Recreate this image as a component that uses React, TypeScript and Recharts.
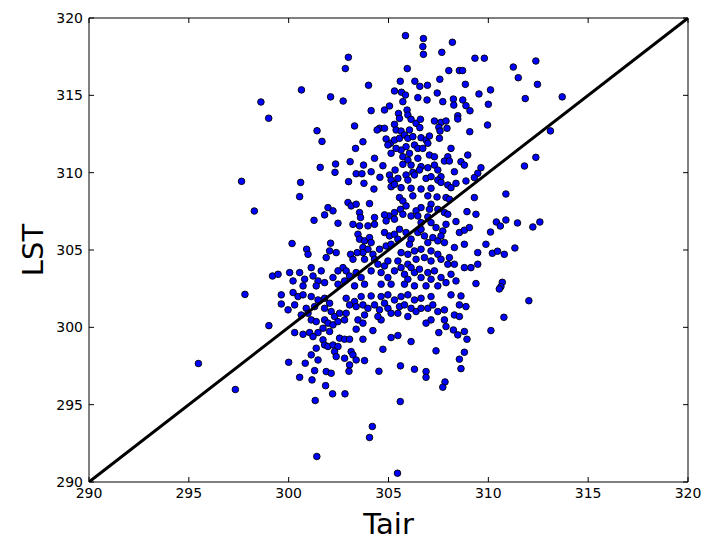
import React from 'react';
import { ScatterChart, Scatter, XAxis, YAxis, ReferenceArea } from 'recharts';

// axis ticks (same on both axes)
const xTicks = [290, 295, 300, 305, 310, 315, 320];
const yTicks = [290, 295, 300, 305, 310, 315, 320];

// 1:1 line
const oneToOne = [
  { tair: 290, lst: 290 },
  { tair: 320, lst: 320 },
];

// [Tair, LST] pairs
const sparsePoints: [number, number][] = [
  [298.61, 314.57], [299.0, 313.52], [300.64, 315.35], [302.1, 314.9],
  [305.85, 318.86], [306.75, 318.67], [306.72, 318.15], [306.75, 317.65], [308.2, 318.43],
  [307.67, 317.78], [302.99, 317.46], [302.84, 316.73], [305.94, 316.73], [308.02, 316.6],
  [304.0, 315.65], [305.59, 315.91], [306.32, 315.91], [306.57, 315.58], [306.95, 315.65],
  [307.57, 316.04], [305.3, 315.28], [305.65, 315.2], [305.85, 315.02], [307.44, 315.15],
  [309.33, 317.4], [309.8, 317.4], [311.25, 316.83], [312.38, 317.22], [311.5, 316.14],
  [312.46, 315.71], [308.55, 316.6], [308.71, 316.6], [308.85, 315.71], [309.53, 315.09],
  [310.11, 315.35], [311.85, 314.79], [313.7, 314.9], [310.0, 314.42], [309.96, 313.08],
  [313.11, 312.7], [312.38, 310.99], [311.81, 310.43],
  [310.88, 308.62], [310.4, 306.81], [310.6, 306.55], [310.88, 306.94], [311.46, 306.75],
  [312.23, 306.49], [312.58, 306.81], [310.11, 306.16], [309.88, 305.37], [311.33, 305.13],
  [310.2, 304.79], [310.46, 304.92], [310.8, 304.72], [310.7, 302.91], [310.63, 302.63],
  [310.55, 302.48], [312.03, 301.72], [310.78, 300.65], [310.13, 299.79],
  [297.64, 309.44], [298.28, 307.52], [299.19, 303.32], [297.81, 302.13], [299.01, 300.11],
  [295.48, 297.66], [297.33, 295.98], [301.33, 295.27], [301.41, 291.65],
  [305.59, 295.2], [304.19, 293.59], [304.05, 292.88], [305.45, 290.57], [302.2, 295.7],
  [302.82, 295.7],
];

const upperPoints: [number, number][] = [
  [302.73, 314.63], [305.72, 314.59], [306.47, 314.85], [306.93, 314.7], [307.72, 314.59],
  [308.25, 314.76], [308.72, 314.7], [308.27, 314.37], [308.88, 314.33], [309.08, 314.0],
  [305.05, 314.31], [304.13, 314.01], [304.8, 314.05],
  [305.5, 313.83], [305.93, 314.05], [305.97, 313.73], [305.55, 313.51], [306.13, 313.45],
  [306.38, 313.19], [306.6, 313.45], [307.3, 313.34], [307.63, 313.25], [307.88, 313.34],
  [308.47, 313.68], [308.47, 313.47], [307.93, 312.87], [307.52, 312.93], [307.58, 312.69],
  [306.57, 312.91], [305.3, 313.12], [305.38, 312.76], [305.63, 312.69], [306.05, 312.76],
  [304.55, 312.87], [304.43, 312.76], [304.8, 312.87], [303.3, 313.02], [301.42, 312.71],
  [301.67, 312.02], [303.35, 311.57], [303.72, 312.0], [309.07, 312.65],
  [304.88, 312.18], [305.1, 311.9], [305.3, 312.11], [305.55, 312.22], [305.8, 312.44],
  [305.97, 312.22], [306.22, 312.33], [306.63, 312.26], [306.88, 312.11], [307.05, 312.37],
  [307.55, 312.22], [306.97, 311.9], [306.3, 311.79], [306.47, 311.57], [306.72, 311.57],
  [305.88, 311.68], [305.63, 311.46], [305.38, 311.57], [305.13, 311.25], [304.97, 311.79],
  [306.05, 311.25], [305.72, 311.03], [305.97, 310.82], [306.47, 310.93], [307.05, 311.14],
  [307.3, 311.03], [307.97, 311.03], [308.13, 311.57], [308.97, 311.14], [308.63, 310.71],
  [308.8, 310.49], [307.8, 310.75], [308.05, 310.75], [304.3, 310.93], [304.72, 310.45],
  [305.33, 310.17], [305.72, 310.54], [306.13, 310.49], [306.22, 310.02], [306.63, 310.39],
  [306.97, 310.32], [307.3, 310.49], [307.47, 310.17], [307.63, 309.74], [308.3, 310.06],
  [308.38, 309.31], [308.88, 309.46], [309.47, 309.96], [309.63, 310.32], [309.3, 309.68],
  [303.08, 310.71], [302.35, 310.56], [301.58, 310.34], [302.32, 310.02], [303.75, 310.49],
  [303.38, 309.93], [303.67, 309.93], [304.13, 310.06], [304.57, 309.7], [303.0, 309.42],
  [303.77, 309.31], [304.27, 308.94], [300.6, 309.37], [305.05, 309.85], [305.13, 309.52],
  [305.47, 309.63], [305.88, 309.85], [305.97, 309.52], [306.3, 309.85], [306.55, 310.17],
  [306.88, 309.63], [307.13, 309.74], [307.47, 309.52], [307.63, 309.37], [307.97, 309.2],
  [308.13, 309.03], [305.13, 309.09], [305.3, 309.24], [306.13, 308.99], [306.63, 308.94],
  [307.13, 308.99], [305.63, 309.03],
];

const middlePoints: [number, number][] = [
  [300.55, 308.45], [305.55, 308.39], [305.72, 308.17], [305.88, 307.85], [306.22, 308.5],
  [306.97, 308.5], [307.43, 308.43], [307.88, 308.39], [308.05, 308.28], [309.3, 308.39],
  [307.13, 307.96], [307.05, 307.63], [307.47, 307.63], [306.63, 307.74], [306.38, 307.53],
  [305.6, 307.63], [305.3, 307.42], [305.02, 307.2], [304.8, 307.27], [304.88, 306.88],
  [305.3, 306.99], [305.72, 307.31], [306.13, 307.2], [306.47, 307.2], [306.97, 307.14],
  [307.8, 307.42], [307.97, 307.31], [308.93, 307.48], [309.38, 307.31], [308.38, 306.84],
  [304.05, 308.0], [302.97, 308.07], [303.13, 307.85], [303.38, 307.96], [301.97, 307.74],
  [301.8, 307.27], [302.22, 307.53], [303.55, 307.42], [303.6, 307.1], [304.3, 307.1],
  [304.3, 306.66], [303.97, 306.56], [303.55, 306.56], [303.22, 306.66], [302.47, 306.73],
  [301.27, 306.92],
  [304.8, 306.13], [305.05, 305.91], [305.3, 306.02], [305.55, 306.34], [305.47, 305.7],
  [305.88, 306.13], [306.13, 305.7], [306.05, 305.37], [306.47, 306.13], [306.63, 306.34],
  [306.8, 305.91], [306.97, 305.48], [307.22, 305.8], [307.47, 305.59], [307.72, 306.23],
  [307.88, 306.66], [307.38, 306.45], [307.13, 306.77], [306.63, 306.77], [307.63, 305.91],
  [307.8, 305.48], [308.55, 306.13], [308.8, 306.28], [309.05, 306.45], [308.8, 305.37],
  [309.47, 304.83], [308.3, 305.16], [307.13, 304.94], [307.47, 304.72], [305.63, 304.83],
  [305.97, 304.72], [306.3, 304.94], [306.63, 305.05], [306.38, 304.4], [306.8, 304.51],
  [307.13, 304.29], [307.63, 304.4], [308.05, 304.51], [307.97, 304.08], [308.3, 304.08],
  [308.8, 303.86], [309.13, 303.86], [309.47, 304.08],
  [303.47, 306.02], [303.55, 305.7], [303.8, 305.59], [304.05, 305.8], [304.13, 305.48],
  [303.72, 305.16], [303.97, 305.05], [303.72, 304.83], [303.43, 304.83], [304.22, 304.72],
  [304.3, 304.4], [304.55, 305.05], [304.88, 305.26], [305.13, 305.37], [303.1, 304.72],
  [303.22, 304.4], [303.8, 304.4], [302.72, 303.86], [302.88, 303.65], [302.05, 304.94],
  [302.38, 304.83], [301.88, 304.51], [300.9, 305.05], [300.97, 304.72], [300.17, 305.42],
  [302.1, 305.44],
  [300.05, 303.54], [300.22, 303.0], [300.55, 303.54], [300.8, 303.11], [300.72, 302.68],
  [301.13, 303.86], [301.22, 303.32], [301.47, 303.0], [301.38, 302.68], [301.63, 303.65],
  [301.8, 302.89], [302.22, 303.22], [302.47, 303.65], [302.47, 302.79], [302.8, 303.0],
  [303.05, 303.32], [303.38, 303.54], [303.63, 303.22], [303.3, 302.68], [303.8, 302.79],
  [304.13, 303.65], [304.47, 304.08], [304.63, 303.54], [304.8, 303.97], [304.97, 303.22],
  [305.13, 302.79], [305.3, 303.65], [305.63, 303.86], [305.8, 303.43], [305.97, 304.08],
  [305.97, 303.11], [306.3, 303.54], [306.55, 303.76], [306.63, 303.22], [306.97, 303.54],
  [307.13, 303.11], [306.88, 302.68], [307.3, 303.65], [307.63, 303.22], [307.88, 302.89],
  [308.13, 303.43], [308.38, 303.0], [307.47, 302.68], [306.3, 302.68], [305.8, 302.79],
  [304.63, 302.79], [306.13, 303.86], [305.47, 304.29], [304.97, 304.29], [299.47, 303.43],
  [309.38, 302.83],
];

const lowerPoints: [number, number][] = [
  [299.63, 302.1], [300.22, 302.25], [300.47, 301.99], [300.72, 302.1], [301.13, 301.99],
  [301.47, 301.77], [301.8, 301.88], [299.63, 301.51], [299.97, 301.13], [302.88, 301.88],
  [303.3, 301.67], [303.63, 301.99], [304.13, 302.03], [304.63, 301.99], [304.97, 302.1],
  [305.3, 301.77], [305.63, 301.99], [305.97, 302.1], [306.3, 301.77], [306.63, 301.88],
  [307.13, 301.99], [308.13, 302.1], [308.63, 302.03],
  [300.3, 301.45], [300.88, 301.23], [301.3, 301.34], [301.8, 301.23], [302.05, 301.56],
  [302.13, 301.02], [302.3, 300.7], [302.55, 300.91], [302.88, 300.91], [303.05, 301.45],
  [303.38, 301.34], [303.72, 301.45], [303.97, 301.23], [304.3, 301.45], [304.55, 301.13],
  [304.8, 301.56], [304.97, 301.23], [305.13, 300.91], [305.55, 301.34], [305.8, 301.45],
  [306.13, 301.23], [306.38, 301.02], [306.63, 301.23], [306.97, 301.23], [307.22, 301.45],
  [307.47, 301.02], [307.8, 301.13], [308.3, 300.8], [308.55, 301.45], [308.88, 301.34],
  [307.13, 300.48], [306.88, 300.27], [307.8, 300.48], [308.55, 300.7], [303.8, 300.8],
  [303.47, 300.48], [303.72, 300.27], [304.63, 300.48], [304.47, 300.7], [305.47, 300.91],
  [305.97, 300.7], [300.63, 300.8], [300.97, 300.91], [301.13, 300.48], [301.38, 300.37],
  [301.8, 300.48], [301.97, 300.27], [302.22, 300.16], [302.47, 300.37], [302.8, 300.48],
  [300.3, 299.66], [300.72, 299.55], [301.05, 299.66], [301.47, 299.66], [301.72, 299.94],
  [302.05, 299.73], [301.22, 299.4], [303.38, 299.88], [304.22, 299.79], [305.13, 299.34],
  [305.47, 299.47], [306.13, 299.08], [307.52, 299.66], [307.88, 300.05], [308.25, 299.83],
  [308.47, 299.51], [308.8, 299.73], [308.93, 299.23],
  [301.72, 299.19], [301.8, 298.86], [301.97, 298.76], [302.22, 298.86], [302.47, 298.76],
  [302.55, 299.3], [302.8, 299.23], [303.05, 299.23], [301.38, 298.65], [301.47, 297.89],
  [301.13, 298.22], [302.3, 298.43], [302.38, 298.11], [302.8, 298.0], [303.13, 298.43],
  [303.22, 298.22], [303.38, 297.89], [303.05, 297.57], [303.8, 297.85], [303.72, 299.23],
  [304.72, 298.58], [307.38, 298.48], [308.8, 298.39], [308.55, 297.94], [300.0, 297.74],
  [300.83, 297.68], [301.3, 297.2], [301.88, 297.14], [302.13, 297.03], [303.02, 297.16],
  [304.52, 297.16], [305.6, 297.51], [306.3, 297.29], [306.88, 297.14], [306.88, 296.77],
  [308.63, 297.33], [300.55, 296.77], [301.17, 296.6], [301.85, 296.23], [307.83, 296.47],
  [307.72, 296.13],
];

const points = [...sparsePoints, ...upperPoints, ...middlePoints, ...lowerPoints].map(
  ([tair, lst]) => ({ tair, lst })
);

const FONT = 'DejaVu Sans, sans-serif';
const PLOT_W = 599;
const PLOT_H = 464;

const XTick = (props: any) => {
  const { x, y, payload } = props;
  return (
    <g>
      <line x1={x} y1={y} x2={x} y2={y - 5} stroke="#000" />
      <line x1={x} y1={y - PLOT_H} x2={x} y2={y - PLOT_H + 5} stroke="#000" />
      <text x={x} y={y + 16} textAnchor="middle" fontSize={14} fontFamily={FONT} fill="#000">
        {payload.value}
      </text>
    </g>
  );
};

const YTick = (props: any) => {
  const { x, y, payload } = props;
  return (
    <g>
      <line x1={x} y1={y} x2={x + 5} y2={y} stroke="#000" />
      <line x1={x + PLOT_W} y1={y} x2={x + PLOT_W - 5} y2={y} stroke="#000" />
      <text x={x - 6} y={y + 5} textAnchor="end" fontSize={14} fontFamily={FONT} fill="#000">
        {payload.value}
      </text>
    </g>
  );
};

const Dot = (props: any) => (
  <circle cx={props.cx} cy={props.cy} r={3.3} fill="#0000ff" stroke="#000" strokeWidth={0.9} />
);

export default function App() {
  return (
    <div style={{ position: 'absolute', left: 0, top: 0, background: '#fff' }}>
      <ScatterChart width={704} height={542} margin={{ top: 18, right: 16, bottom: 0, left: 0 }}>
        <XAxis
          type="number"
          dataKey="tair"
          domain={[290, 320]}
          ticks={xTicks}
          interval={0}
          allowDataOverflow
          height={60}
          tickLine={false}
          tickSize={0}
          tickMargin={0}
          axisLine={false}
          tick={<XTick />}
          label={{
            content: ({ viewBox }: any) => (
              <text
                x={viewBox.x + viewBox.width / 2}
                y={viewBox.y + 52}
                textAnchor="middle"
                fontSize={29}
                fontFamily={FONT}
                fill="#000"
              >
                Tair
              </text>
            ),
          }}
        />
        <YAxis
          type="number"
          dataKey="lst"
          domain={[290, 320]}
          ticks={yTicks}
          interval={0}
          allowDataOverflow
          width={89}
          tickLine={false}
          tickSize={0}
          tickMargin={0}
          axisLine={false}
          tick={<YTick />}
          label={{
            content: ({ viewBox }: any) => {
              const cx = viewBox.x + 33;
              const cy = viewBox.y + viewBox.height / 2;
              return (
                <text
                  x={cx}
                  y={cy}
                  transform={`rotate(-90, ${cx}, ${cy})`}
                  textAnchor="middle"
                  dominantBaseline="central"
                  fontSize={29}
                  fontFamily={FONT}
                  fill="#000"
                >
                  LST
                </text>
              );
            },
          }}
        />
        <ReferenceArea x1={290} x2={320} y1={290} y2={320} fill="none" stroke="#000" strokeWidth={1} />
        <Scatter data={points} shape={<Dot />} isAnimationActive={false} />
        <Scatter
          data={oneToOne}
          line={{ stroke: '#000', strokeWidth: 3 }}
          shape={() => <g />}
          isAnimationActive={false}
        />
      </ScatterChart>
    </div>
  );
}
